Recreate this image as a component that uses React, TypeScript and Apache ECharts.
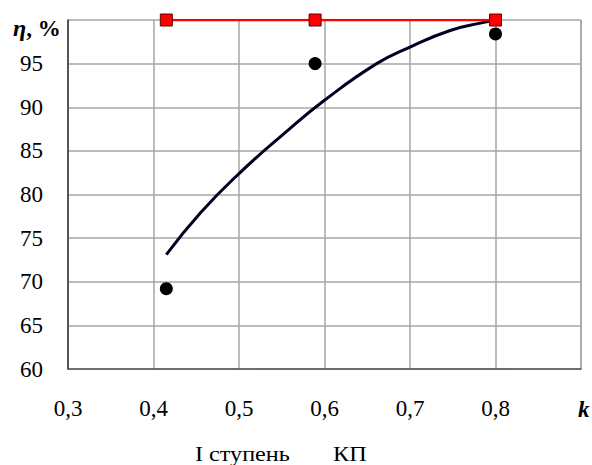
import React, { useEffect, useRef } from "react";
import * as echarts from "echarts";

// Measured points, stage I
const stageK = [0.415, 0.589, 0.8];
const stageEta = [69.2, 95.0, 98.4];
// КП points
const kpK = [0.415, 0.589, 0.8];
const kpEta = [100, 100, 100];
// Trend curve
const trendK = [0.415, 0.455, 0.5, 0.553, 0.6, 0.661, 0.7, 0.747, 0.785, 0.8];
const trendEta = [73.1, 77.9, 82.4, 87.0, 90.8, 95.0, 96.9, 98.8, 99.7, 100];

const xTicks = [0.3, 0.4, 0.5, 0.6, 0.7, 0.8];
const yTicks = [60, 65, 70, 75, 80, 85, 90, 95];
const legendNames = ["I ступень", "КП"];

const numFont = "'Liberation Serif', 'Times New Roman', serif";
const textFont = "'Liberation Serif', 'Times New Roman', serif";

export default function App() {
  const ref = useRef<HTMLDivElement>(null);
  useEffect(() => {
    document.body.style.margin = "0";
    if (!ref.current) return;
    const chart = echarts.init(ref.current, undefined, { renderer: "svg" });
    chart.setOption({
      animation: false,
      backgroundColor: "#ffffff",
      textStyle: { fontFamily: numFont },
      grid: { left: 68, right: 11, top: 20, bottom: 96, containLabel: false },
      legend: {
        show: false,
        data: legendNames,
      },
      xAxis: {
        type: "value",
        min: 0.3,
        max: 0.9,
        interval: 0.1,
        axisLine: { show: true, lineStyle: { color: "#555", width: 1.5 } },
        axisTick: { show: false },
        splitLine: { show: true, lineStyle: { color: "#a6a6a6", width: 1.5 } },
        axisLabel: {
          margin: 28,
          fontFamily: numFont,
          fontSize: 23,
          color: "#000",
          formatter: (v: number) => {
            const r = Math.round(v * 10) / 10;
            if (xTicks.indexOf(r) >= 0) return r.toFixed(1).replace(".", ",");
            return "";
          },
        },
      },
      yAxis: {
        type: "value",
        min: 60,
        max: 100,
        interval: 5,
        axisLine: { show: true, lineStyle: { color: "#333", width: 1.5 } },
        axisTick: { show: false },
        splitLine: { show: true, lineStyle: { color: "#a6a6a6", width: 1.5 } },
        axisLabel: {
          margin: 25,
          fontFamily: numFont,
          fontSize: 23,
          color: "#000",
          formatter: (v: number) => (yTicks.indexOf(v) >= 0 ? String(v) : ""),
        },
      },
      graphic: [
        {
          type: "line",
          shape: { x1: 581, y1: 20, x2: 581, y2: 369 },
          style: { stroke: "#a6a6a6", lineWidth: 1.5 },
          silent: true,
        },
        {
          type: "text",
          left: 13,
          top: 16,
          style: {
            text: "{e|η}{p|, %}",
            rich: {
              e: { fontFamily: numFont, fontStyle: "italic", fontWeight: "bold", fontSize: 24, fill: "#000" },
              p: { fontFamily: numFont, fontWeight: "bold", fontSize: 23, fill: "#000" },
            },
          },
        },
        {
          type: "text",
          left: 578,
          top: 398,
          style: {
            text: "k",
            fontFamily: numFont,
            fontStyle: "italic",
            fontWeight: "bold",
            fontSize: 23,
            fill: "#000",
          },
        },
        {
          type: "text",
          x: 195,
          y: 453,
          scaleX: 1.1,
          style: {
            text: legendNames[0],
            fontFamily: textFont,
            fontSize: 22,
            fill: "#000",
            verticalAlign: "middle",
          },
        },
        {
          type: "text",
          x: 333,
          y: 453,
          scaleX: 1.1,
          style: {
            text: legendNames[1],
            fontFamily: textFont,
            fontSize: 22,
            fill: "#000",
            verticalAlign: "middle",
          },
        },
      ],
      series: [
        {
          name: "trend",
          type: "line",
          smooth: true,
          showSymbol: false,
          symbol: "none",
          data: trendK.map((k, i) => [k, trendEta[i]]),
          lineStyle: { color: "#000022", width: 3 },
          z: 2,
        },
        {
          name: legendNames[0],
          type: "scatter",
          symbol: "circle",
          symbolSize: 13,
          data: stageK.map((k, i) => [k, stageEta[i]]),
          itemStyle: { color: "#000000", opacity: 1 },
          z: 3,
        },
        {
          name: legendNames[1],
          type: "line",
          symbol: "rect",
          symbolSize: 12,
          showAllSymbol: true,
          data: kpK.map((k, i) => [k, kpEta[i]]),
          lineStyle: { color: "#ff0000", width: 2.5 },
          itemStyle: { color: "#ff0000", borderColor: "#600000", borderWidth: 1 },
          z: 4,
        },
      ],
    });
    return () => chart.dispose();
  }, []);
  return <div ref={ref} style={{ width: 592, height: 465 }} />;
}
